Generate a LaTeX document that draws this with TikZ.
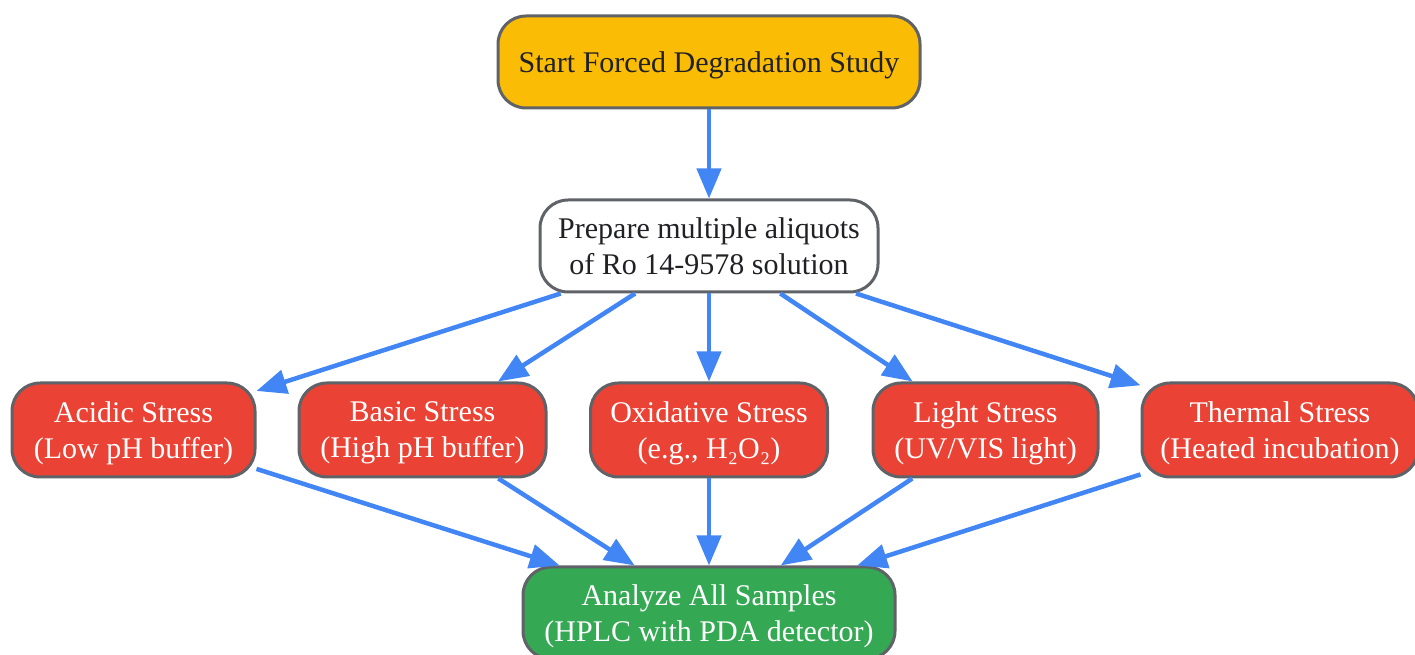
\documentclass[tikz,border=0pt]{standalone}
\usepackage{fontspec}
\setmainfont{Liberation Serif}
\usetikzlibrary{arrows.meta,positioning}
\definecolor{gyellow}{HTML}{FBBC05}
\definecolor{gred}{HTML}{EA4335}
\definecolor{ggreen}{HTML}{34A853}
\definecolor{gblue}{HTML}{4285F4}
\definecolor{gborder}{HTML}{5F6368}
\definecolor{gtext}{HTML}{202124}

\begin{document}
\begin{tikzpicture}[x=1pt,y=1pt,{box/.style={rectangle,rounded corners=28pt,draw=gborder,line width=3pt,align=center,font=\fontsize{30}{36}\selectfont,minimum height=92pt,inner sep=0pt,text depth=-1pt}},{stressbox/.style={box,fill=gred,text=white,minimum height=94pt}},{flow/.style={draw=gblue,line width=4.5pt,-{Triangle[length=30pt,width=24pt]}}}]
		\useasboundingbox (0,0) rectangle (1415,655);
		%%top nodes
		\node at (709,593) [box,fill=gyellow,text=gtext,minimum width=422pt] (start) {Start Forced Degradation Study};
		\node at (709,409) [box,fill=white,text=gtext,minimum width=338pt] (prep) {Prepare multiple aliquots\\of Ro 14-9578 solution};
		%%stress conditions
		\node at (133.5,225) [stressbox,minimum width=243pt] (acid) {Acidic Stress\\(Low pH buffer)};
		\node at (422.5,225) [stressbox,minimum width=247pt] (base) {Basic Stress\\(High pH buffer)};
		\node at (709,225) [stressbox,minimum width=237pt] (oxid) {Oxidative Stress\\(e.g., H₂O₂)};
		\node at (985.5,225) [stressbox,minimum width=225pt] (light) {Light Stress\\(UV/VIS light)};
		\node at (1280,225) [stressbox,minimum width=276pt] (therm) {Thermal Stress\\(Heated incubation)};
		%%analysis
		\node at (709,42) [box,fill=ggreen,text=white,minimum width=372pt] (anal) {Analyze All Samples\\(HPLC with PDA detector)};
		%%edges
		\draw [flow] (start) -- (prep);
		\foreach \s in {acid,base,oxid,light,therm}
		{
			\draw [flow] (prep) -- (\s);
			\draw [flow] (\s) -- (anal);
		}
\end{tikzpicture}
\end{document}
